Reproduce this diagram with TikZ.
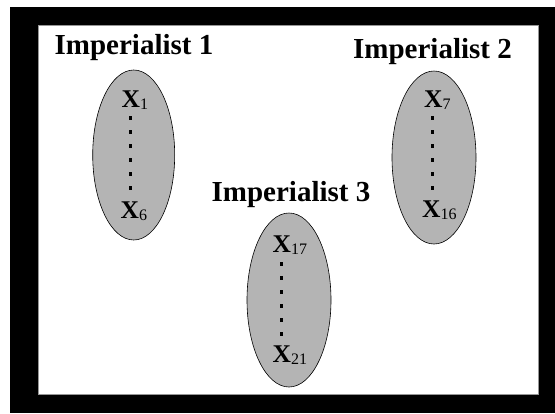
\documentclass[tikz,border=0pt]{standalone}
\usepackage{fontspec}
\setmainfont{Liberation Serif}
\usetikzlibrary{shapes.geometric}
\definecolor{cellgray}{RGB}{180,180,180}
\definecolor{edgegray}{RGB}{150,150,150}
\newcommand{\subsc}[1]{\raisebox{-2.5pt}{\fontsize{16}{16}\selectfont\mdseries #1}}
\tikzset{
  title/.style={font=\fontsize{29}{31}\selectfont\bfseries, anchor=base, inner sep=0pt},
  cell/.style={ellipse, draw=black, line width=0.6pt, fill=cellgray, inner sep=0pt},
  member/.style={font=\fontsize{25.5}{27}\selectfont\bfseries, anchor=base west, inner sep=0pt},
  dotline/.style={line width=3pt, dash pattern=on 4pt off 10pt}
}
\begin{document}
\begin{tikzpicture}[x=1pt,y=-1pt]
\useasboundingbox (0,0) rectangle (555,413);
\fill[black] (10,7) rectangle (555,413);
\filldraw[fill=white, draw=edgegray, line width=0.6pt] (38,25) rectangle (538,394);

% empire 1
\node[title] (t1) at (134,54) {Imperialist 1};
\node[cell, minimum width=82pt, minimum height=170pt] (e1) at (133.7,155) {};
\node[member] (x1) at (121.5,107) {X\subsc{1}};
\node[member] (x6) at (120.5,218) {X\subsc{6}};
\coordinate (a1) at (130.7,116);
\coordinate (b1) at (130.7,190);
\draw[dotline] (a1) -- (b1);

% empire 2
\node[title] (t2) at (432.5,58) {Imperialist 2};
\node[cell, minimum width=84pt, minimum height=173pt] (e2) at (434,157.5) {};
\node[member] (x7) at (424,107) {X\subsc{7}};
\node[member] (x16) at (422,217) {X\subsc{16}};
\coordinate (a2) at (432,116);
\coordinate (b2) at (432,190);
\draw[dotline] (a2) -- (b2);

% empire 3
\node[title] (t3) at (291,201.5) {Imperialist 3};
\node[cell, minimum width=84pt, minimum height=174pt] (e3) at (289,300) {};
\node[member] (x17) at (272.5,252) {X\subsc{17}};
\node[member] (x21) at (272.5,362) {X\subsc{21}};
\coordinate (a3) at (281.7,262);
\coordinate (b3) at (281.7,336);
\draw[dotline] (a3) -- (b3);
\end{tikzpicture}
\end{document}
